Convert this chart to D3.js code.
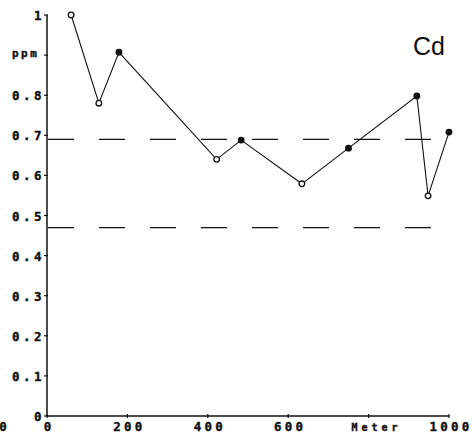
<!DOCTYPE html>
<html><head><meta charset="utf-8">
<script src="https://cdn.jsdelivr.net/npm/d3@7"></script>
<style>
html,body{margin:0;padding:0;background:#fff;}
svg{display:block;}
.lab{font-family:"DejaVu Sans Mono",monospace;font-weight:bold;fill:#111;stroke:#111;stroke-width:0.4;}
</style></head>
<body>
<script>
// Data
const distances = [60, 129, 179, 422, 483, 634, 750, 920, 948, 1000];
const values    = [1.0, 0.78, 0.907, 0.64, 0.688, 0.579, 0.668, 0.798, 0.549, 0.708];
const filled    = [false, false, true, false, true, false, true, true, false, true];
const refLines  = [0.69, 0.47];
const yTicks    = [0, 0.1, 0.2, 0.3, 0.4, 0.5, 0.6, 0.7, 0.8, 0.9, 1];
const yTickLabels = ["0", "0.1", "0.2", "0.3", "0.4", "0.5", "0.6", "0.7", "0.8", "ppm", "1"];
const xTicks    = [0, 200, 400, 600, 800, 1000];
const xTickLabels = ["0", "200", "400", "600", "Meter", "1000"];
const element = "Cd";

const W = 472, H = 434;
const svg = d3.select("body").append("svg").attr("width", W).attr("height", H);

const x = d3.scaleLinear().domain([0, 1000]).range([47, 449]);
const y = d3.scaleLinear().domain([0, 1]).range([416, 15]);

// axes lines
svg.append("line").attr("x1", x(0)).attr("x2", x(0)).attr("y1", y(1)).attr("y2", y(0))
  .attr("stroke", "#111").attr("stroke-width", 1.5);
svg.append("line").attr("x1", x(0)).attr("x2", x(1000)).attr("y1", y(0)).attr("y2", y(0))
  .attr("stroke", "#111").attr("stroke-width", 1.5);

// y ticks
svg.selectAll(".yt").data(yTicks).enter().append("line")
  .attr("x1", x(0) - 3).attr("x2", x(0) + 1)
  .attr("y1", d => y(d)).attr("y2", d => y(d))
  .attr("stroke", "#111").attr("stroke-width", 1.2);
// x ticks
svg.selectAll(".xt").data(xTicks).enter().append("line")
  .attr("x1", d => x(d)).attr("x2", d => x(d))
  .attr("y1", y(0) - 2).attr("y2", y(0) + 2)
  .attr("stroke", "#111").attr("stroke-width", 1.2);

// y labels
svg.selectAll(".yl").data(yTicks).enter().append("text")
  .attr("class", "lab")
  .attr("x", (d, i) => yTickLabels[i].length === 1 ? 34 : 12)
  .attr("y", (d, i) => y(d) + (yTickLabels[i] === "ppm" ? 2 : 5))
  .attr("font-size", (d, i) => yTickLabels[i] === "ppm" ? 11 : 12.5)
  .attr("letter-spacing", (d, i) => yTickLabels[i] === "ppm" ? 2.5 : 3.5)
  .text((d, i) => yTickLabels[i]);

// x labels
svg.selectAll(".xl").data(xTicks).enter().append("text")
  .attr("class", "lab")
  .attr("x", (d, i) => x(d) + (xTickLabels[i] === "Meter" ? 8 : 2))
  .attr("y", 431)
  .attr("text-anchor", "middle")
  .attr("font-size", (d, i) => xTickLabels[i] === "Meter" ? 10 : 12.5)
  .attr("letter-spacing", (d, i) => xTickLabels[i] === "Meter" ? 4 : 3.2)
  .text((d, i) => xTickLabels[i]);
// stray left zero
svg.append("text").attr("class", "lab").attr("x", 3).attr("y", 431)
  .attr("text-anchor", "middle").attr("font-size", 12.5).text(xTickLabels[0]);

// reference dashed lines
svg.selectAll(".ref").data(refLines).enter().append("line")
  .attr("x1", x(0) + 1).attr("x2", x(955))
  .attr("y1", d => y(d)).attr("y2", d => y(d))
  .attr("stroke", "#111").attr("stroke-width", 1.3)
  .attr("stroke-dasharray", "26,25");

// data line
const pts = distances.map((d, i) => [d, values[i]]);
svg.append("path").datum(pts)
  .attr("d", d3.line().x(d => x(d[0])).y(d => y(d[1])))
  .attr("fill", "none").attr("stroke", "#111").attr("stroke-width", 1.1);

svg.selectAll(".pt").data(pts).enter().append("circle")
  .attr("cx", d => x(d[0])).attr("cy", d => y(d[1])).attr("r", 2.8)
  .attr("fill", (d, i) => filled[i] ? "#111" : "#fff")
  .attr("stroke", "#111").attr("stroke-width", 1.3);

// element label
svg.append("text").attr("x", 413).attr("y", 55)
  .attr("font-family", "'Liberation Sans', Arial, sans-serif")
  .attr("font-size", 25).attr("fill", "#111").text(element);
</script>
</body></html>
